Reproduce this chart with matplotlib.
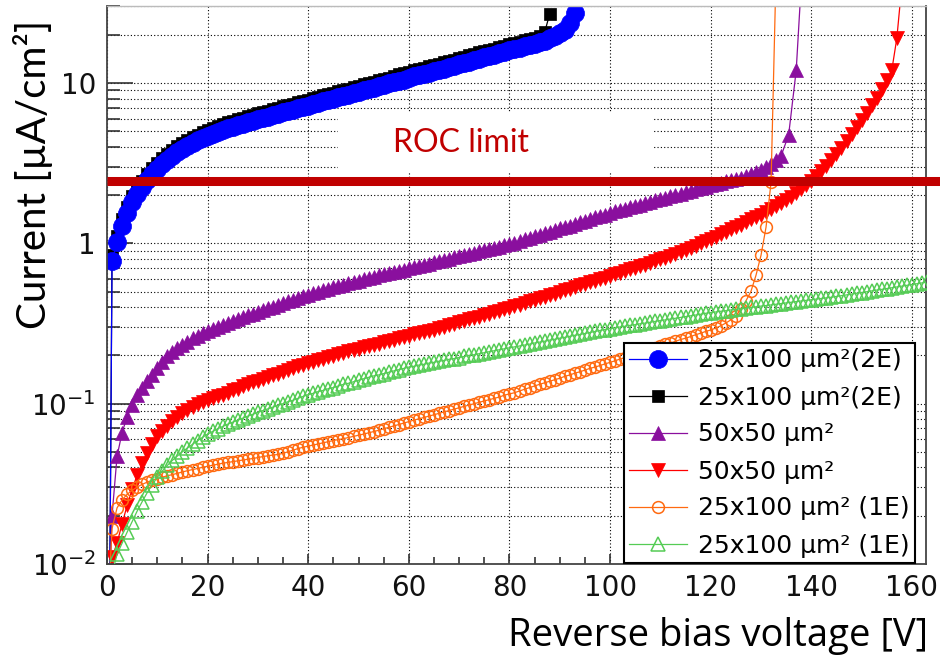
import numpy as np
import matplotlib
matplotlib.use('Agg')
import matplotlib.pyplot as plt
from matplotlib.patches import Rectangle
from matplotlib.ticker import MultipleLocator, LogLocator, NullFormatter

plt.rcParams['font.family'] = ['DejaVu Sans']
plt.rcParams['mathtext.fontset'] = 'dejavusans'

# leakage current [uA/cm2], one reading per volt starting at 1 V
cur_2e_a = [0.78, 1.02, 1.29, 1.55, 1.80, 2.03, 2.25, 2.47, 2.69, 2.91,
            3.12, 3.33, 3.52, 3.71, 3.88, 4.06, 4.22, 4.38, 4.53, 4.68,
            4.82, 4.95, 5.08, 5.21, 5.33, 5.46, 5.58, 5.70, 5.81, 5.93,
            6.05, 6.17, 6.29, 6.42, 6.55, 6.68, 6.81, 6.95, 7.09, 7.23,
            7.37, 7.52, 7.67, 7.83, 7.98, 8.14, 8.30, 8.47, 8.64, 8.81,
            8.99, 9.17, 9.35, 9.54, 9.73, 9.93, 10.1, 10.3, 10.5, 10.8,
            11.0, 11.2, 11.4, 11.6, 11.9, 12.1, 12.3, 12.6, 12.8, 13.1,
            13.4, 13.6, 13.9, 14.2, 14.5, 14.8, 15.0, 15.3, 15.7, 16.0,
            16.3, 16.6, 16.9, 17.3, 17.6, 18.0, 18.4, 19.0, 19.6, 20.4,
            21.4, 23.5, 27.5]
cur_2e_b = [0.85, 1.11, 1.41, 1.69, 1.96, 2.21, 2.45, 2.69, 2.93, 3.17,
            3.40, 3.63, 3.84, 4.04, 4.23, 4.43, 4.60, 4.77, 4.94, 5.10,
            5.25, 5.40, 5.54, 5.68, 5.81, 5.95, 6.08, 6.21, 6.33, 6.46,
            6.59, 6.73, 6.86, 7.00, 7.14, 7.28, 7.42, 7.58, 7.73, 7.88,
            8.03, 8.20, 8.36, 8.53, 8.70, 8.87, 9.05, 9.23, 9.42, 9.60,
            9.80, 10.0, 10.2, 10.4, 10.6, 10.8, 11.0, 11.3, 11.5, 11.7,
            12.0, 12.2, 12.4, 12.7, 12.9, 13.2, 13.5, 13.7, 14.0, 14.3,
            14.6, 14.9, 15.2, 15.5, 15.8, 16.1, 16.4, 16.7, 17.1, 17.4,
            17.8, 18.1, 18.5, 18.8, 19.2, 19.6, 20.7, 27.0]
cur_50_a = [0.020, 0.047, 0.066, 0.083, 0.098, 0.114, 0.126, 0.139, 0.151, 0.168,
            0.182, 0.197, 0.210, 0.222, 0.233, 0.244, 0.255, 0.265, 0.275, 0.284,
            0.293, 0.302, 0.310, 0.319, 0.328, 0.337, 0.346, 0.355, 0.364, 0.373,
            0.383, 0.393, 0.403, 0.413, 0.424, 0.435, 0.446, 0.457, 0.468, 0.479,
            0.489, 0.499, 0.509, 0.520, 0.531, 0.542, 0.553, 0.565, 0.575, 0.586,
            0.597, 0.608, 0.619, 0.631, 0.643, 0.653, 0.664, 0.675, 0.685, 0.697,
            0.710, 0.723, 0.735, 0.748, 0.760, 0.774, 0.787, 0.802, 0.817, 0.830,
            0.845, 0.859, 0.875, 0.891, 0.906, 0.923, 0.940, 0.955, 0.973, 0.991,
            1.01, 1.03, 1.06, 1.08, 1.11, 1.13, 1.16, 1.18, 1.21, 1.24,
            1.27, 1.29, 1.32, 1.35, 1.38, 1.41, 1.45, 1.48, 1.51, 1.55,
            1.58, 1.61, 1.64, 1.68, 1.71, 1.74, 1.78, 1.81, 1.85, 1.89,
            1.92, 1.96, 2.00, 2.04, 2.08, 2.13, 2.17, 2.21, 2.25, 2.30,
            2.34, 2.38, 2.43, 2.47, 2.52, 2.57, 2.63, 2.70, 2.77, 2.86,
            2.98, 3.13, 3.31, 3.51]
cur_50_b = [0.011, 0.0135, 0.0178, 0.0232, 0.0292, 0.0359, 0.0427, 0.0495, 0.0562, 0.0624,
            0.0679, 0.0728, 0.0776, 0.0822, 0.0871, 0.0918, 0.0955, 0.0989, 0.102, 0.105,
            0.108, 0.111, 0.114, 0.117, 0.121, 0.124, 0.128, 0.132, 0.136, 0.139,
            0.143, 0.147, 0.150, 0.154, 0.158, 0.162, 0.166, 0.171, 0.175, 0.179,
            0.183, 0.187, 0.191, 0.195, 0.199, 0.203, 0.207, 0.212, 0.216, 0.220,
            0.224, 0.229, 0.233, 0.237, 0.242, 0.246, 0.251, 0.255, 0.260, 0.265,
            0.270, 0.275, 0.280, 0.285, 0.290, 0.296, 0.302, 0.308, 0.315, 0.321,
            0.328, 0.335, 0.342, 0.349, 0.356, 0.364, 0.372, 0.379, 0.387, 0.395,
            0.405, 0.414, 0.424, 0.434, 0.444, 0.454, 0.465, 0.475, 0.486, 0.498,
            0.509, 0.521, 0.533, 0.546, 0.558, 0.571, 0.585, 0.598, 0.612, 0.627,
            0.641, 0.656, 0.671, 0.687, 0.703, 0.719, 0.736, 0.755, 0.774, 0.794,
            0.815, 0.838, 0.861, 0.885, 0.912, 0.940, 0.968, 1.00, 1.03, 1.07,
            1.10, 1.14, 1.18, 1.23, 1.27, 1.31, 1.36, 1.41, 1.46, 1.51,
            1.57, 1.63, 1.70, 1.78, 1.86, 1.95, 2.06, 2.17, 2.30, 2.45,
            2.62, 2.81, 3.03, 3.29, 3.59, 3.94, 4.34, 4.79, 5.30, 5.86,
            6.50, 7.24, 8.11, 9.12, 10.4, 12.0, 19.0]
cur_1e_a = [0.0166, 0.0224, 0.0251, 0.0272, 0.0288, 0.0302, 0.0314, 0.0324, 0.0333, 0.0341,
            0.0348, 0.0355, 0.0361, 0.0368, 0.0375, 0.0382, 0.0388, 0.0394, 0.0401, 0.0407,
            0.0413, 0.0419, 0.0425, 0.0430, 0.0435, 0.0440, 0.0445, 0.0450, 0.0455, 0.0461,
            0.0468, 0.0473, 0.0478, 0.0482, 0.0490, 0.0501, 0.0513, 0.0525, 0.0535, 0.0543,
            0.0552, 0.0561, 0.0570, 0.0579, 0.0589, 0.0597, 0.0605, 0.0615, 0.0625, 0.0635,
            0.0646, 0.0658, 0.0670, 0.0682, 0.0697, 0.0711, 0.0726, 0.0741, 0.0757, 0.0773,
            0.0789, 0.0804, 0.0820, 0.0836, 0.0853, 0.0871, 0.0887, 0.0906, 0.0925, 0.0942,
            0.0962, 0.0980, 0.100, 0.102, 0.104, 0.106, 0.108, 0.110, 0.113, 0.115,
            0.117, 0.120, 0.123, 0.126, 0.129, 0.132, 0.135, 0.138, 0.141, 0.144,
            0.148, 0.151, 0.155, 0.158, 0.162, 0.166, 0.169, 0.173, 0.177, 0.181,
            0.185, 0.190, 0.194, 0.199, 0.204, 0.208, 0.213, 0.218, 0.223, 0.229,
            0.234, 0.239, 0.245, 0.251, 0.256, 0.262, 0.269, 0.275, 0.282, 0.288,
            0.296, 0.306, 0.318, 0.333, 0.351, 0.389, 0.437, 0.501, 0.631, 0.841,
            1.26, 2.40]
cur_1e_b = [0.0087, 0.0115, 0.0135, 0.0158, 0.0184, 0.0214, 0.0245, 0.0279, 0.0313, 0.0347,
            0.0380, 0.0412, 0.0443, 0.0472, 0.0501, 0.0530, 0.0558, 0.0587, 0.0617, 0.0646,
            0.0671, 0.0697, 0.0721, 0.0745, 0.0767, 0.0791, 0.0813, 0.0836, 0.0859, 0.0883,
            0.0906, 0.0929, 0.0953, 0.0977, 0.100, 0.103, 0.105, 0.108, 0.111, 0.114,
            0.116, 0.119, 0.121, 0.124, 0.126, 0.129, 0.132, 0.134, 0.137, 0.140,
            0.143, 0.146, 0.149, 0.151, 0.154, 0.157, 0.160, 0.163, 0.166, 0.169,
            0.171, 0.174, 0.176, 0.179, 0.181, 0.184, 0.186, 0.189, 0.191, 0.194,
            0.197, 0.200, 0.202, 0.205, 0.208, 0.211, 0.214, 0.217, 0.220, 0.223,
            0.226, 0.229, 0.232, 0.235, 0.239, 0.242, 0.245, 0.249, 0.252, 0.256,
            0.259, 0.263, 0.267, 0.270, 0.274, 0.278, 0.282, 0.286, 0.290, 0.294,
            0.297, 0.301, 0.304, 0.308, 0.311, 0.315, 0.318, 0.322, 0.326, 0.330,
            0.333, 0.337, 0.341, 0.345, 0.349, 0.353, 0.357, 0.361, 0.366, 0.370,
            0.373, 0.377, 0.380, 0.384, 0.387, 0.391, 0.394, 0.398, 0.402, 0.406,
            0.409, 0.413, 0.417, 0.421, 0.425, 0.429, 0.433, 0.437, 0.441, 0.445,
            0.449, 0.453, 0.457, 0.461, 0.466, 0.471, 0.476, 0.482, 0.488, 0.493,
            0.499, 0.505, 0.511, 0.516, 0.522, 0.528, 0.535, 0.541, 0.547, 0.553,
            0.560, 0.566, 0.573]

# readings off the 1 V grid: first point near 0 V and breakdown tail
pre_v = {'2e_a': [0.5], '2e_b': [0.5], '50_a': [0.3], '50_b': [0.5], '1e_a': [0.3], '1e_b': []}
pre_i = {'2e_a': [0.004], '2e_b': [0.004], '50_a': [0.004], '50_b': [0.006], '1e_a': [0.006], '1e_b': []}
post_v = {'2e_a': [], '2e_b': [], '50_a': [135.5, 137.0, 138.3], '50_b': [158.5], '1e_a': [133.0], '1e_b': []}
post_i = {'2e_a': [], '2e_b': [], '50_a': [4.75, 12.0, 60.0], '50_b': [60.0], '1e_a': [50.0], '1e_b': []}

roc_limit = 2.44

labels = ['25x100 µm²(2E)', '25x100 µm²(2E)', '50x50 µm²', '50x50 µm²',
          '25x100 µm² (1E)', '25x100 µm² (1E)']

fig = plt.figure(figsize=(9.4, 6.61), dpi=100)
W, H = 940.0, 661.0
ax = fig.add_axes([107 / W, 1 - 564 / H, (926 - 107) / W, (564 - 6) / H])


def series(key, cur):
    v = pre_v[key] + list(np.arange(1, len(cur) + 1)) + post_v[key]
    i = pre_i[key] + list(cur) + post_i[key]
    return v, i


styles = [
    ('2e_a', cur_2e_a, dict(color='#0000ff', marker='o', ms=13, mfc='#0000ff', mec='#0000ff', mew=0.5, zorder=2.2)),
    ('2e_b', cur_2e_b, dict(color='black', marker='s', ms=8.5, mfc='black', mec='black', mew=0.5, zorder=2.1)),
    ('50_a', cur_50_a, dict(color='#8a0f9e', marker='^', ms=9.5, mfc='#8a0f9e', mec='#8a0f9e', mew=0.5, zorder=2.3)),
    ('50_b', cur_50_b, dict(color='#ff0000', marker='v', ms=10, mfc='#ff0000', mec='#ff0000', mew=0.5, zorder=2.4)),
    ('1e_a', cur_1e_a, dict(color='#ff6a10', marker='o', ms=8.5, mfc='none', mec='#ff6a10', mew=1.1, zorder=2.5)),
    ('1e_b', cur_1e_b, dict(color='#55cc55', marker='^', ms=9.5, mfc='none', mec='#55cc55', mew=1.1, zorder=2.6)),
]

handles = []
for (key, cur, kw), lab in zip(styles, labels):
    v, i = series(key, cur)
    h, = ax.plot(v, i, lw=0.9, label=lab, **kw)
    handles.append(h)

ax.set_yscale('log')
ax.set_xlim(0, 162.8)
ax.set_ylim(0.01, 30.2)

ax.xaxis.set_major_locator(MultipleLocator(20))
ax.xaxis.set_minor_locator(MultipleLocator(5))
ax.set_yticks([0.01, 0.1, 1, 10])
ax.set_yticklabels(['$10^{-2}$', '$10^{-1}$', '1', '10'])
ax.yaxis.set_minor_locator(LogLocator(base=10, subs=np.arange(2, 10)))
ax.yaxis.set_minor_formatter(NullFormatter())

ax.tick_params(axis='both', which='both', direction='in', width=1.2, labelsize=20,
               top=False, right=False, colors='#333333', labelcolor='#111111')
ax.tick_params(axis='y', which='major', length=19, pad=8)
ax.tick_params(axis='y', which='minor', length=9)
ax.tick_params(axis='x', which='major', length=7, pad=7)
ax.tick_params(axis='x', which='minor', length=5)

dots = dict(color='black', lw=0.8, linestyle=(0, (1, 2)))
ax.grid(axis='x', which='major', **dots)
ax.grid(axis='y', which='both', **dots)

for side in ['left', 'bottom', 'right']:
    ax.spines[side].set_color('#444444')
    ax.spines[side].set_linewidth(1.3)
ax.spines['top'].set_color('#bbbbbb')
ax.spines['top'].set_linewidth(1.0)

# blank band behind the limit caption
ax.add_patch(Rectangle((338 / W, 1 - 172 / H), 315 / W, 60 / H, transform=fig.transFigure,
                       facecolor='white', edgecolor='none', zorder=1.8))

ax.plot([0, 180], [roc_limit, roc_limit], color='#c00000', lw=6.5,
        solid_capstyle='butt', clip_on=False, zorder=4)
fig.text(461 / W, 1 - 143 / H, 'ROC limit', color='#c00000', fontsize=23,
         family='Lato', ha='center', va='center')

leg = ax.legend(handles=handles, loc='lower right', bbox_to_anchor=(915 / W, 1 - 563 / H),
                bbox_transform=fig.transFigure, fontsize=18, frameon=True, fancybox=False,
                edgecolor='black', framealpha=1, borderaxespad=0, handlelength=2.3,
                handletextpad=0.45, labelspacing=0.52, borderpad=0.22)
leg.get_frame().set_linewidth(1.5)
leg.set_zorder(5)

fig.text(33 / W, 1 - 174 / H, 'Current [µA/cm²]', rotation=90, family='Lato',
         fontsize=29, ha='center', va='center')
fig.text(718 / W, 1 - 636 / H, 'Reverse bias voltage [V]', family='Open Sans',
         fontsize=27.5, ha='center', va='center')

fig.savefig('out.png', dpi=100)
